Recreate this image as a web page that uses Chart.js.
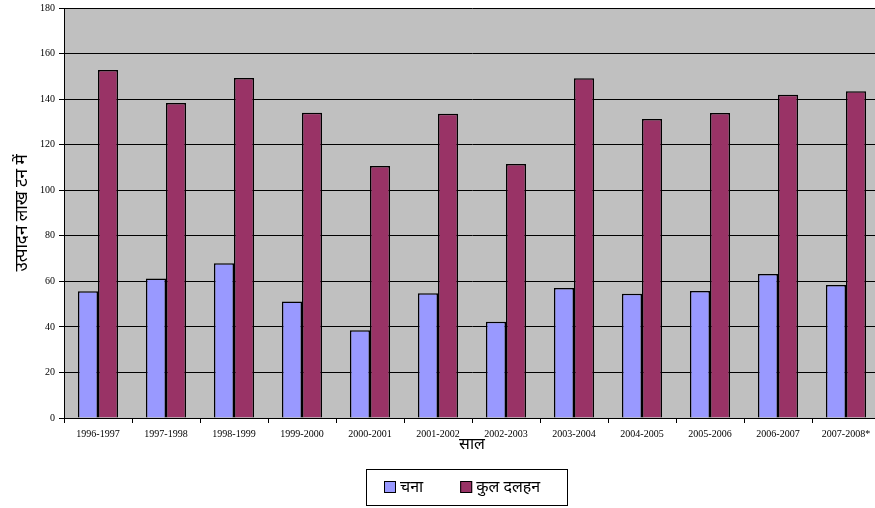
<!DOCTYPE html>
<html>
<head>
<meta charset="utf-8">
<script src="https://cdn.jsdelivr.net/npm/chart.js@4"></script>
<style>
  html, body { margin: 0; padding: 0; background: #fff; overflow: hidden; }
</style>
</head>
<body>
<canvas id="pulseChart" width="880" height="508"></canvas>
<script>
const years = ['1996-1997', '1997-1998', '1998-1999', '1999-2000', '2000-2001', '2001-2002',
               '2002-2003', '2003-2004', '2004-2005', '2005-2006', '2006-2007', '2007-2008*'];
const gram = [55.6, 61.2, 67.9, 51.1, 38.5, 54.8, 42.3, 57.1, 54.6, 55.8, 63.2, 58.4];
const totalPulses = [152.8, 138.3, 149.3, 134.0, 110.6, 133.6, 111.5, 149.2, 131.3, 133.9, 141.9, 143.4];

const devFont = "'Noto Sans', 'DejaVu Sans', sans-serif";
const numFont = "'Liberation Serif', 'Times New Roman', serif";

// grey plot background
const plotBackground = {
    id: 'plotBackground',
    beforeDraw(chart) {
        const a = chart.chartArea;
        const ctx = chart.ctx;
        ctx.save();
        ctx.fillStyle = '#c0c0c0';
        ctx.fillRect(a.left, a.top, a.right - a.left, a.bottom - a.top);
        ctx.restore();
    }
};

// boxed legend under the axis, like the original office chart
const boxLegend = {
    id: 'boxLegend',
    afterDraw(chart) {
        const ctx = chart.ctx;
        const left = 366, top = 469, width = 201, height = 36;
        ctx.save();
        ctx.strokeStyle = '#000';
        ctx.lineWidth = 1;
        ctx.strokeRect(left + 0.5, top + 0.5, width, height);
        ctx.font = '16px ' + devFont;
        ctx.textBaseline = 'middle';
        let x = left + 18;
        const cy = top + height / 2;
        chart.data.datasets.forEach(ds => {
            ctx.fillStyle = ds.backgroundColor;
            ctx.fillRect(x, cy - 6, 12, 12);
            ctx.strokeStyle = '#000';
            ctx.strokeRect(x + 0.5, cy - 5.5, 11, 11);
            ctx.fillStyle = '#000';
            ctx.fillText(ds.label, x + 16, cy);
            x += 16 + ctx.measureText(ds.label).width + 37;
        });
        ctx.restore();
    }
};

new Chart(document.getElementById('pulseChart').getContext('2d'), {
    type: 'bar',
    data: {
        labels: years,
        datasets: [
            {
                label: 'चना',
                data: gram,
                backgroundColor: '#9999ff',
                borderColor: '#000',
                borderWidth: 1.5,
                categoryPercentage: 0.59,
                barPercentage: 1.0
            },
            {
                label: 'कुल दलहन',
                data: totalPulses,
                backgroundColor: '#993366',
                borderColor: '#000',
                borderWidth: 1.5,
                categoryPercentage: 0.59,
                barPercentage: 1.0
            }
        ]
    },
    options: {
        responsive: false,
        animation: false,
        layout: { padding: { top: 8, right: 0, bottom: 54, left: 0 } },
        plugins: {
            legend: { display: false },
            tooltip: { enabled: false }
        },
        scales: {
            x: {
                afterFit(scale) { scale.height = 36; },
                grid: {
                    offset: true,
                    drawOnChartArea: false,
                    color: '#000',
                    tickColor: '#000',
                    tickLength: 5
                },
                border: { color: '#000' },
                ticks: {
                    color: '#000',
                    padding: 5,
                    maxRotation: 0,
                    autoSkip: false,
                    font: { family: numFont, size: 10 }
                },
                title: {
                    display: true,
                    text: 'साल',
                    color: '#000',
                    padding: 0,
                    font: { family: devFont, size: 16 }
                }
            },
            y: {
                min: 0,
                max: 180,
                afterFit(scale) {
                    scale.width = 64;
                    scale.paddingTop = 0;
                    scale.paddingBottom = 0;
                },
                grid: {
                    color: '#000',
                    tickColor: '#000',
                    tickLength: 5
                },
                border: { color: '#000' },
                ticks: {
                    stepSize: 20,
                    color: '#000',
                    padding: 4,
                    font: { family: numFont, size: 10 }
                },
                title: {
                    display: true,
                    text: 'उत्पादन लाख टन में',
                    color: '#000',
                    padding: { top: 12, bottom: 0 },
                    font: { family: devFont, size: 17 }
                }
            }
        }
    },
    plugins: [plotBackground, boxLegend]
});
</script>
</body>
</html>
